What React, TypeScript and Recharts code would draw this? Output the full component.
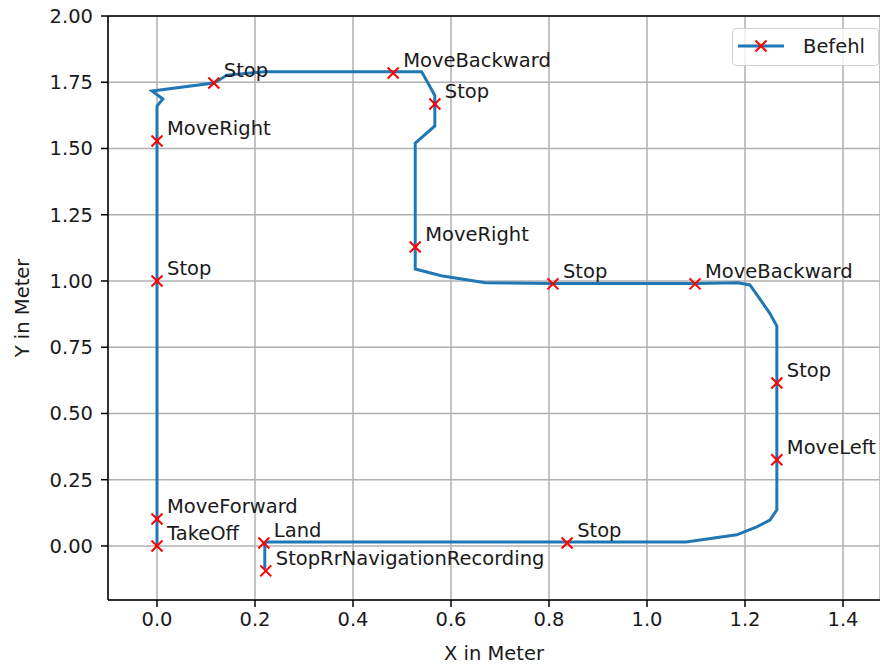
import React from 'react'
import {
  ScatterChart,
  Scatter,
  XAxis,
  YAxis,
  CartesianGrid,
  ReferenceLine,
} from 'recharts'

// flown trajectory (m)
const pathX = [
  0, 0, 0, 0, 0, 0.012, -0.01, 0.116, 0.143, 0.22, 0.54, 0.567, 0.567, 0.567,
  0.527, 0.527, 0.527, 0.58, 0.67, 0.808, 1.098, 1.185, 1.21, 1.25, 1.265,
  1.265, 1.265, 1.265, 1.251, 1.224, 1.183, 1.08, 0.837, 0.225, 0.22, 0.22,
]
const pathY = [
  0, 0.1, 1.0, 1.53, 1.66, 1.687, 1.717, 1.747, 1.777, 1.79, 1.79, 1.7, 1.668,
  1.585, 1.52, 1.128, 1.045, 1.02, 0.993, 0.99, 0.99, 0.993, 0.985, 0.88, 0.83,
  0.615, 0.325, 0.136, 0.098, 0.072, 0.042, 0.015, 0.015, 0.015, 0.011, -0.088,
]

// commands sent to the drone
const cmdNames = [
  'TakeOff', 'MoveForward', 'Stop', 'MoveRight', 'Stop', 'MoveBackward', 'Stop',
  'MoveRight', 'Stop', 'MoveBackward', 'Stop', 'MoveLeft', 'Stop', 'Land',
  'StopRrNavigationRecording',
]
const cmdX = [
  0, 0, 0, 0, 0.116, 0.482, 0.567, 0.527, 0.808, 1.098, 1.265, 1.265, 0.837,
  0.218, 0.222,
]
const cmdY = [
  0, 0.102, 1.0, 1.528, 1.747, 1.785, 1.668, 1.128, 0.989, 0.989, 0.615, 0.325,
  0.011, 0.011, -0.094,
]

const xTicks = [0, 0.2, 0.4, 0.6, 0.8, 1.0, 1.2, 1.4]
const yTicks = [0, 0.25, 0.5, 0.75, 1.0, 1.25, 1.5, 1.75, 2.0]

const pathData = pathX.map((x, i) => ({ x, y: pathY[i] }))
const cmdData = cmdX.map((x, i) => ({ x, y: cmdY[i], name: cmdNames[i] }))

const FONT = '"DejaVu Sans", sans-serif'
const FS = 19.5
const TEXT = '#1a1a1a'
const BLUE = '#1f77b4'
const RED = '#ff0000'

const Cross = ({ cx, cy, s = 5.5 }: { cx: number; cy: number; s?: number }) => (
  <g stroke={RED} strokeWidth={2}>
    <line x1={cx - s} y1={cy - s} x2={cx + s} y2={cy + s} />
    <line x1={cx - s} y1={cy + s} x2={cx + s} y2={cy - s} />
  </g>
)

const CommandMark = (props: any) => {
  const { cx, cy, payload } = props
  return (
    <g>
      <Cross cx={cx} cy={cy} />
      <text x={cx + 10} y={cy - 6} fontSize={FS} fontFamily={FONT} fill={TEXT}>
        {payload.name}
      </text>
    </g>
  )
}

const LegendBox = () => (
  <div
    style={{
      position: 'absolute',
      left: 732,
      top: 28,
      width: 147,
      height: 38,
      boxSizing: 'border-box',
      border: '1px solid #d0d0d0',
      borderRadius: 4,
      background: 'rgba(255,255,255,0.8)',
    }}
  >
    <svg width={145} height={36} style={{ display: 'block' }}>
      <line x1={5} y1={17} x2={51} y2={17} stroke={BLUE} strokeWidth={3} />
      <Cross cx={28} cy={17} />
      <text x={70} y={24} fontSize={FS} fontFamily={FONT} fill={TEXT}>
        Befehl
      </text>
    </svg>
  </div>
)

export default function App() {
  return (
    <div style={{ position: 'absolute', left: 0, top: 0, width: 880, height: 665 }}>
      <ScatterChart
        width={880}
        height={665}
        margin={{ top: 16, right: 0, bottom: 0, left: 0 }}
      >
        <CartesianGrid stroke="#b0b0b0" strokeWidth={1.5} />
        <XAxis
          type="number"
          dataKey="x"
          domain={[-0.1, 1.4755]}
          ticks={xTicks}
          allowDataOverflow
          height={65}
          tickFormatter={(v: number) => v.toFixed(1)}
          tick={{ fontSize: FS, fontFamily: FONT, fill: TEXT }}
          tickSize={7}
          tickMargin={5}
          axisLine={{ stroke: '#000', strokeWidth: 1.5 }}
          tickLine={{ stroke: '#000', strokeWidth: 1.5 }}
          label={{
            value: 'X in Meter',
            position: 'insideBottom',
            offset: 5,
            fontSize: FS,
            fontFamily: FONT,
            fill: TEXT,
          }}
        />
        <YAxis
          type="number"
          dataKey="y"
          domain={[-0.204, 2.0]}
          ticks={yTicks}
          allowDataOverflow
          width={108}
          tickFormatter={(v: number) => v.toFixed(2)}
          tick={{ fontSize: FS, fontFamily: FONT, fill: TEXT }}
          tickSize={7}
          tickMargin={8}
          axisLine={{ stroke: '#000', strokeWidth: 1.5 }}
          tickLine={{ stroke: '#000', strokeWidth: 1.5 }}
          label={{
            value: 'Y in Meter',
            angle: -90,
            position: 'center',
            dx: -32,
            fontSize: FS,
            fontFamily: FONT,
            fill: TEXT,
          }}
        />
        <ReferenceLine y={2.0} stroke="#000" strokeWidth={1.5} />
        <Scatter
          data={pathData}
          line={{ stroke: BLUE, strokeWidth: 3 }}
          lineType="joint"
          shape={() => <g />}
          isAnimationActive={false}
        />
        <Scatter
          data={cmdData}
          shape={CommandMark}
          isAnimationActive={false}
        />
      </ScatterChart>
      <LegendBox />
    </div>
  )
}
